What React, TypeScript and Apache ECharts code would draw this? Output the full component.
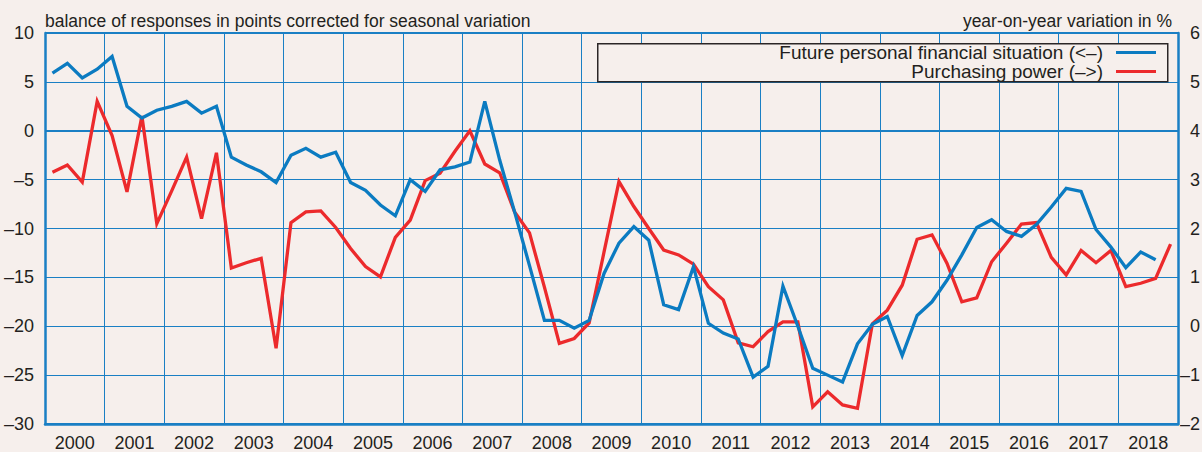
import React, { useEffect, useRef } from "react";
import * as echarts from "echarts";

const years = [
  "2000", "2001", "2002", "2003", "2004", "2005", "2006", "2007", "2008", "2009",
  "2010", "2011", "2012", "2013", "2014", "2015", "2016", "2017", "2018",
];

// Quarterly values, 2000 Q1 onwards
const futureSituation = [
  5.9, 6.9, 5.4, 6.3,
  7.6, 2.5, 1.3, 2.1,
  2.5, 3.0, 1.8, 2.5,
  -2.7, -3.5, -4.2, -5.3,
  -2.5, -1.8, -2.7, -2.2,
  -5.3, -6.1, -7.6, -8.7,
  -5.0, -6.2, -4.0, -3.7,
  -3.2, 3.0, -3.0, -8.3,
  -13.8, -19.4, -19.4, -20.2,
  -19.4, -14.6, -11.5, -9.8,
  -11.2, -17.8, -18.3, -13.9,
  -19.7, -20.7, -21.3, -25.2,
  -24.1, -15.9, -20.0, -24.3,
  -25.0, -25.7, -21.8, -19.8,
  -19.0, -23.0, -18.9, -17.5,
  -15.3, -12.7, -9.9, -9.1,
  -10.3, -10.8, -9.6, -7.8,
  -5.9, -6.2, -10.1, -11.9,
  -14.0, -12.4, -13.2,
];

const purchasingPower = [
  3.15, 3.3, 2.95, 4.6,
  3.9, 2.75, 4.3, 2.1,
  2.77, 3.46, 2.2, 3.55,
  1.19, 1.3, 1.39, -0.45,
  2.12, 2.34, 2.36, 2.02,
  1.59, 1.22, 1.01, 1.82,
  2.17, 2.98, 3.13, 3.58,
  4.0, 3.32, 3.14, 2.34,
  1.91, 0.8, -0.35, -0.25,
  0.07, 1.52, 2.96, 2.45,
  2.0, 1.56, 1.46, 1.27,
  0.81, 0.54, -0.34, -0.42,
  -0.11, 0.09, 0.09, -1.65,
  -1.34, -1.61, -1.68, 0.05,
  0.33, 0.84, 1.78, 1.87,
  1.29, 0.5, 0.58, 1.32,
  1.7, 2.09, 2.12, 1.41,
  1.05, 1.55, 1.3, 1.55,
  0.81, 0.88, 0.98, 1.68,
];

const NAME_A = "Future personal financial situation (<\u2013)";
const NAME_B = "Purchasing power (\u2013>)";
const LEFT_TITLE = "balance of responses in points corrected for seasonal variation";
const RIGHT_TITLE = "year-on-year variation in %";

const BG = "#f6efec";
const GRID = "#1a7fc4";
const TXT = "#231f20";
const BLUE = "#0b7bc1";
const RED = "#ec2a2c";
const FONT = "'Liberation Sans', Arial, Helvetica, sans-serif";

const fmt = (v: number) => String(v).replace("-", "\u2013");

export default function App() {
  const ref = useRef<HTMLDivElement>(null);
  useEffect(() => {
    document.body.style.margin = "0";
    document.body.style.background = BG;
    const chart = echarts.init(ref.current!, null, { renderer: "svg" });
    const quarterCount = years.length * 4;
    const blueData = futureSituation.map((v, i) => [i + 0.5, v]);
    const redData = purchasingPower.map((v, i) => [i + 0.5, v]);
    const legendBase = {
      right: 46,
      orient: "horizontal",
      align: "right",
      itemWidth: 40,
      itemHeight: 3,
      icon: "rect",
      padding: 0,
      selectedMode: false,
      textStyle: { color: TXT, fontSize: 19, fontFamily: FONT, padding: [0, 8, 0, 0] },
    };
    chart.setOption({
      animation: false,
      backgroundColor: BG,
      textStyle: { fontFamily: FONT },
      title: [
        { text: LEFT_TITLE, left: 45, top: 12, padding: 0, textStyle: { color: TXT, fontSize: 17.5, fontWeight: "normal", fontFamily: FONT } },
        { text: RIGHT_TITLE, right: 30, top: 12, padding: 0, textStyle: { color: TXT, fontSize: 17.5, fontWeight: "normal", fontFamily: FONT } },
      ],
      legend: [
        { ...legendBase, top: 43, data: [{ name: NAME_A }] },
        { ...legendBase, top: 62, data: [{ name: NAME_B }] },
      ],
      graphic: [
        {
          type: "rect",
          left: 597,
          top: 43,
          z: 3,
          shape: { width: 570, height: 38 },
          style: { fill: BG, stroke: "#2b2626", lineWidth: 1.5 },
        },
      ],
      grid: { left: 45, right: 24, top: 33, bottom: 28, outerBoundsMode: "none", containLabel: false },
      xAxis: [
        {
          type: "value",
          min: 0,
          max: quarterCount,
          interval: 4,
          axisLine: { show: true, onZero: false, lineStyle: { color: GRID, width: 2.5 } },
          axisTick: { show: false },
          axisLabel: { show: false },
          splitLine: { show: true, lineStyle: { color: GRID, width: 1 } },
        },
        {
          type: "category",
          data: years,
          position: "bottom",
          axisLine: { show: false },
          axisTick: { show: false },
          splitLine: { show: false },
          axisLabel: { color: TXT, fontSize: 18, fontFamily: FONT, margin: 10 },
        },
      ],
      yAxis: [
        {
          type: "value",
          min: -30,
          max: 10,
          interval: 5,
          axisLine: { show: true, lineStyle: { color: GRID, width: 2.5 } },
          axisTick: { show: false },
          axisLabel: { color: TXT, fontSize: 18, fontFamily: FONT, margin: 11, formatter: fmt },
          splitLine: { show: true, lineStyle: { color: GRID, width: 1 } },
        },
        {
          type: "value",
          min: -2,
          max: 6,
          interval: 1,
          position: "right",
          axisLine: { show: true, lineStyle: { color: GRID, width: 2.5 } },
          axisTick: { show: false },
          axisLabel: { color: TXT, fontSize: 18, fontFamily: FONT, margin: 22, align: "right", formatter: fmt },
          splitLine: { show: false },
        },
        {
          type: "value",
          min: -30,
          max: 10,
          interval: 30,
          position: "left",
          axisLine: { show: false },
          axisTick: { show: false },
          axisLabel: { show: false },
          splitLine: { show: true, lineStyle: { color: GRID, width: 2 } },
        },
      ],
      series: [
        {
          name: NAME_A,
          type: "line",
          xAxisIndex: 0,
          yAxisIndex: 0,
          data: blueData,
          showSymbol: false,
          symbol: "none",
          color: BLUE,
          lineStyle: { color: BLUE, width: 3.3, join: "miter", miterLimit: 10 },
          z: 5,
        },
        {
          name: NAME_B,
          type: "line",
          xAxisIndex: 0,
          yAxisIndex: 1,
          data: redData,
          showSymbol: false,
          symbol: "none",
          color: RED,
          lineStyle: { color: RED, width: 3.3, join: "miter", miterLimit: 10 },
          z: 4,
        },
      ],
    });
    return () => chart.dispose();
  }, []);
  return (
    <div
      ref={ref}
      style={{ position: "absolute", left: 0, top: 0, width: 1202, height: 452 }}
    />
  );
}
